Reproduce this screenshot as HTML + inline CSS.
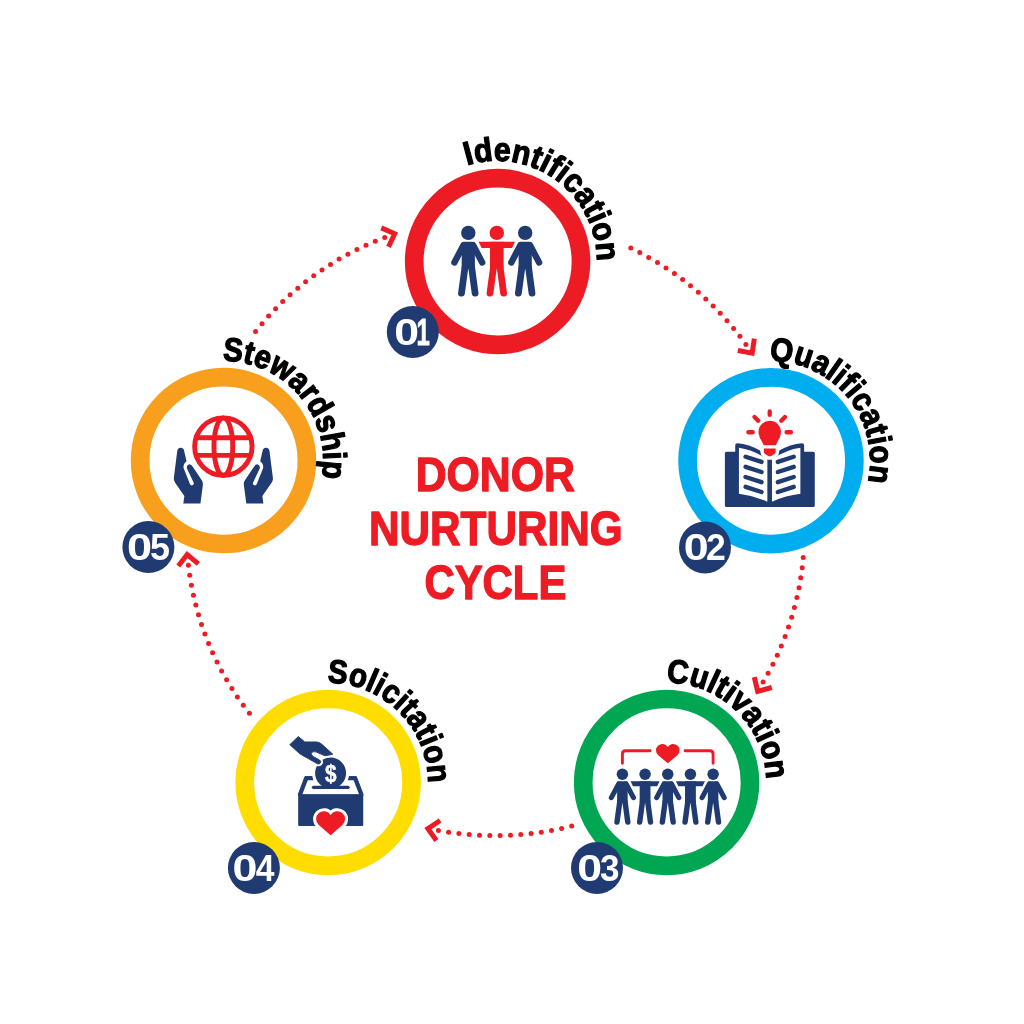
<!DOCTYPE html>
<html lang="en"><head><meta charset="utf-8"><title>Donor Nurturing Cycle</title>
<style>html,body{margin:0;padding:0;background:#fff}svg{display:block}</style></head>
<body>
<svg width="1024" height="1024" viewBox="0 0 1024 1024" style="will-change:transform">
<rect width="1024" height="1024" fill="#fff"/>
<g fill="#ED1C24">
<circle cx="630.8" cy="248.1" r="2.5"/>
<circle cx="639.8" cy="252.6" r="2.5"/>
<circle cx="648.7" cy="257.4" r="2.5"/>
<circle cx="657.5" cy="262.5" r="2.5"/>
<circle cx="666.0" cy="267.9" r="2.5"/>
<circle cx="674.4" cy="273.6" r="2.5"/>
<circle cx="682.6" cy="279.5" r="2.5"/>
<circle cx="690.5" cy="285.8" r="2.5"/>
<circle cx="698.3" cy="292.3" r="2.5"/>
<circle cx="705.8" cy="299.0" r="2.5"/>
<circle cx="713.1" cy="306.0" r="2.5"/>
<circle cx="720.2" cy="313.2" r="2.5"/>
<circle cx="727.0" cy="320.7" r="2.5"/>
<circle cx="733.6" cy="328.4" r="2.5"/>
<circle cx="739.9" cy="336.3" r="2.5"/>
<circle cx="745.9" cy="344.4" r="2.5"/>
<polyline points="737.8,350.5 752.2,353.1 754.3,338.7" fill="none" stroke="#ED1C24" stroke-width="5.0" stroke-linejoin="miter" stroke-miterlimit="10"/>
<circle cx="803.2" cy="557.6" r="2.5"/>
<circle cx="802.2" cy="567.7" r="2.5"/>
<circle cx="800.7" cy="577.7" r="2.5"/>
<circle cx="799.0" cy="587.7" r="2.5"/>
<circle cx="796.9" cy="597.6" r="2.5"/>
<circle cx="794.4" cy="607.5" r="2.5"/>
<circle cx="791.7" cy="617.3" r="2.5"/>
<circle cx="788.5" cy="626.9" r="2.5"/>
<circle cx="785.1" cy="636.5" r="2.5"/>
<circle cx="781.3" cy="645.9" r="2.5"/>
<circle cx="777.3" cy="655.2" r="2.5"/>
<circle cx="772.9" cy="664.3" r="2.5"/>
<circle cx="768.1" cy="673.3" r="2.5"/>
<circle cx="763.1" cy="682.1" r="2.5"/>
<polyline points="754.3,677.2 757.7,691.4 771.8,687.5" fill="none" stroke="#ED1C24" stroke-width="5.0" stroke-linejoin="miter" stroke-miterlimit="10"/>
<circle cx="571.7" cy="826.0" r="2.5"/>
<circle cx="561.6" cy="828.4" r="2.5"/>
<circle cx="551.5" cy="830.4" r="2.5"/>
<circle cx="541.3" cy="832.2" r="2.5"/>
<circle cx="531.1" cy="833.5" r="2.5"/>
<circle cx="520.8" cy="834.6" r="2.5"/>
<circle cx="510.5" cy="835.3" r="2.5"/>
<circle cx="500.1" cy="835.6" r="2.5"/>
<circle cx="489.8" cy="835.6" r="2.5"/>
<circle cx="479.5" cy="835.3" r="2.5"/>
<circle cx="469.2" cy="834.6" r="2.5"/>
<circle cx="458.9" cy="833.6" r="2.5"/>
<circle cx="448.6" cy="832.2" r="2.5"/>
<circle cx="438.4" cy="830.5" r="2.5"/>
<polyline points="440.1,820.5 427.9,828.6 436.4,840.5" fill="none" stroke="#ED1C24" stroke-width="5.0" stroke-linejoin="miter" stroke-miterlimit="10"/>
<circle cx="249.4" cy="713.3" r="2.5"/>
<circle cx="243.3" cy="705.2" r="2.5"/>
<circle cx="237.4" cy="696.9" r="2.5"/>
<circle cx="231.9" cy="688.5" r="2.5"/>
<circle cx="226.6" cy="679.8" r="2.5"/>
<circle cx="221.6" cy="671.0" r="2.5"/>
<circle cx="217.0" cy="661.9" r="2.5"/>
<circle cx="212.6" cy="652.8" r="2.5"/>
<circle cx="208.6" cy="643.5" r="2.5"/>
<circle cx="204.9" cy="634.0" r="2.5"/>
<circle cx="201.5" cy="624.5" r="2.5"/>
<circle cx="198.5" cy="614.8" r="2.5"/>
<circle cx="195.8" cy="605.0" r="2.5"/>
<circle cx="193.4" cy="595.2" r="2.5"/>
<circle cx="191.4" cy="585.2" r="2.5"/>
<circle cx="189.7" cy="575.2" r="2.5"/>
<circle cx="188.4" cy="565.2" r="2.5"/>
<polyline points="198.4,563.8 187.2,554.5 178.3,566.1" fill="none" stroke="#ED1C24" stroke-width="5.0" stroke-linejoin="miter" stroke-miterlimit="10"/>
<circle cx="255.6" cy="331.5" r="2.5"/>
<circle cx="262.0" cy="323.7" r="2.5"/>
<circle cx="268.6" cy="316.1" r="2.5"/>
<circle cx="275.6" cy="308.8" r="2.5"/>
<circle cx="282.7" cy="301.6" r="2.5"/>
<circle cx="290.1" cy="294.8" r="2.5"/>
<circle cx="297.8" cy="288.2" r="2.5"/>
<circle cx="305.6" cy="281.8" r="2.5"/>
<circle cx="313.7" cy="275.7" r="2.5"/>
<circle cx="322.0" cy="269.9" r="2.5"/>
<circle cx="330.5" cy="264.4" r="2.5"/>
<circle cx="339.1" cy="259.1" r="2.5"/>
<circle cx="347.9" cy="254.2" r="2.5"/>
<circle cx="356.9" cy="249.6" r="2.5"/>
<circle cx="366.0" cy="245.2" r="2.5"/>
<circle cx="375.3" cy="241.2" r="2.5"/>
<circle cx="384.7" cy="237.5" r="2.5"/>
<polyline points="388.5,246.9 394.7,233.8 381.3,227.9" fill="none" stroke="#ED1C24" stroke-width="5.0" stroke-linejoin="miter" stroke-miterlimit="10"/>
</g>
<circle cx="497.6" cy="261.5" r="83.4" fill="#fff" stroke="#ED1C24" stroke-width="18.7"/>
<circle cx="771" cy="460.7" r="83.4" fill="#fff" stroke="#00AEEF" stroke-width="18.7"/>
<circle cx="666.6" cy="782.4" r="83.4" fill="#fff" stroke="#00A651" stroke-width="18.7"/>
<circle cx="328.15" cy="782.4" r="83.4" fill="#fff" stroke="#FFDD00" stroke-width="18.7"/>
<circle cx="223.5" cy="460.6" r="83.4" fill="#fff" stroke="#F89F1D" stroke-width="18.7"/>
<circle cx="412.8" cy="332.0" r="26" fill="#203A72"/>
<text y="344.9" font-size="36" fill="#fff" font-family="'Liberation Sans', Arial, sans-serif" font-weight="bold"><tspan x="394.31" textLength="24.80" lengthAdjust="spacingAndGlyphs">0</tspan><tspan x="416.61" textLength="13.29" lengthAdjust="spacingAndGlyphs" stroke="#fff" stroke-width="0.8">1</tspan></text>
<circle cx="705.0" cy="547.4" r="26" fill="#203A72"/>
<text y="560.3" font-size="36" fill="#fff" font-family="'Liberation Sans', Arial, sans-serif" font-weight="bold"><tspan x="683.80" textLength="24.92" lengthAdjust="spacingAndGlyphs">0</tspan><tspan x="706.09" textLength="19.80" lengthAdjust="spacingAndGlyphs">2</tspan></text>
<circle cx="597.0" cy="867.9" r="26" fill="#203A72"/>
<text y="880.8" font-size="36" fill="#fff" font-family="'Liberation Sans', Arial, sans-serif" font-weight="bold"><tspan x="577.31" textLength="24.80" lengthAdjust="spacingAndGlyphs">0</tspan><tspan x="600.05" textLength="19.52" lengthAdjust="spacingAndGlyphs">3</tspan></text>
<circle cx="253.9" cy="867.9" r="26" fill="#203A72"/>
<text y="880.8" font-size="36" fill="#fff" font-family="'Liberation Sans', Arial, sans-serif" font-weight="bold"><tspan x="232.50" textLength="24.92" lengthAdjust="spacingAndGlyphs">0</tspan><tspan x="255.80" textLength="18.69" lengthAdjust="spacingAndGlyphs">4</tspan></text>
<circle cx="148.4" cy="547.1" r="26" fill="#203A72"/>
<text y="560.0" font-size="36" fill="#fff" font-family="'Liberation Sans', Arial, sans-serif" font-weight="bold"><tspan x="126.99" textLength="25.09" lengthAdjust="spacingAndGlyphs">0</tspan><tspan x="149.94" textLength="20.01" lengthAdjust="spacingAndGlyphs">5</tspan></text>
<defs>
<path id="lp0" d="M467.14,165.42 A99.8,99.8 0 0 1 543.23,349.12"/>
<path id="lp1" d="M769.43,360.80 A99.8,99.8 0 0 1 788.49,558.73"/>
<path id="lp2" d="M666.25,682.50 A99.8,99.8 0 0 1 684.27,880.52"/>
<path id="lp3" d="M327.38,682.70 A99.8,99.8 0 0 1 346.44,880.63"/>
<path id="lp4" d="M222.63,360.80 A99.8,99.8 0 0 1 241.69,558.73"/>
</defs>
<text font-size="33" fill="#000" stroke="#000" stroke-width="1.3" stroke-linejoin="round" font-family="'Liberation Sans', Arial, sans-serif" font-weight="bold"><textPath href="#lp0" textLength="187.8" lengthAdjust="spacingAndGlyphs">Identification</textPath></text>
<text font-size="33" fill="#000" stroke="#000" stroke-width="1.3" stroke-linejoin="round" font-family="'Liberation Sans', Arial, sans-serif" font-weight="bold"><textPath href="#lp1" textLength="179.1" lengthAdjust="spacingAndGlyphs">Qualification</textPath></text>
<text font-size="33" fill="#000" stroke="#000" stroke-width="1.3" stroke-linejoin="round" font-family="'Liberation Sans', Arial, sans-serif" font-weight="bold"><textPath href="#lp2" textLength="154.0" lengthAdjust="spacingAndGlyphs">Cultivation</textPath></text>
<text font-size="33" fill="#000" stroke="#000" stroke-width="1.3" stroke-linejoin="round" font-family="'Liberation Sans', Arial, sans-serif" font-weight="bold"><textPath href="#lp3" textLength="158.2" lengthAdjust="spacingAndGlyphs">Solicitation</textPath></text>
<text font-size="33" fill="#000" stroke="#000" stroke-width="1.3" stroke-linejoin="round" font-family="'Liberation Sans', Arial, sans-serif" font-weight="bold"><textPath href="#lp4" textLength="175.1" lengthAdjust="spacingAndGlyphs">Stewardship</textPath></text>
<text x="415.63" y="490.80" font-size="48" fill="#ED1C24" stroke="#ED1C24" stroke-width="1.4" stroke-linejoin="round" font-family="'Liberation Sans', Arial, sans-serif" font-weight="bold" textLength="159.29" lengthAdjust="spacingAndGlyphs">DONOR</text>
<text x="369.06" y="544.50" font-size="48" fill="#ED1C24" stroke="#ED1C24" stroke-width="1.4" stroke-linejoin="round" font-family="'Liberation Sans', Arial, sans-serif" font-weight="bold" textLength="253.54" lengthAdjust="spacingAndGlyphs">NURTURING</text>
<text x="424.39" y="598.50" font-size="48" fill="#ED1C24" stroke="#ED1C24" stroke-width="1.4" stroke-linejoin="round" font-family="'Liberation Sans', Arial, sans-serif" font-weight="bold" textLength="142.01" lengthAdjust="spacingAndGlyphs">CYCLE</text>
<g transform="translate(468.30,232.90) scale(1)" fill="#203A72" stroke="#203A72" stroke-linecap="round">
<circle r="7.2" stroke="none"/>
<path d="M-4.7,12.1 L-13.9,29.5 M4.7,12.1 L13.9,29.5" stroke-width="6.4" fill="none"/>
<path d="M-6.6,12 Q-6.6,8.9 -3.6,8.9 H3.6 Q6.6,8.9 6.6,12 V36 H-6.6 Z" stroke="none"/>
<path d="M-3.25,34 L-6.8,60.2 M3.25,34 L6.8,60.2" stroke-width="6.8" fill="none"/>
</g>
<g transform="translate(525.20,232.90) scale(1)" fill="#203A72" stroke="#203A72" stroke-linecap="round">
<circle r="7.2" stroke="none"/>
<path d="M-4.7,12.1 L-13.9,29.5 M4.7,12.1 L13.9,29.5" stroke-width="6.4" fill="none"/>
<path d="M-6.6,12 Q-6.6,8.9 -3.6,8.9 H3.6 Q6.6,8.9 6.6,12 V36 H-6.6 Z" stroke="none"/>
<path d="M-3.25,34 L-6.8,60.2 M3.25,34 L6.8,60.2" stroke-width="6.8" fill="none"/>
</g>
<g transform="translate(496.80,232.90) scale(1)" fill="#ED1C24" stroke="#ED1C24" stroke-linecap="round">
<circle r="7.2" stroke="none"/>
<path d="M-18.2,8.9 H18.2 L15.2,15.1 H-15.2 Z" stroke="none"/>
<rect x="-6.8" y="8.9" width="13.6" height="27" stroke="none"/>
<path d="M-3.25,34 L-6.8,60.2 M3.25,34 L6.8,60.2" stroke-width="6.8" fill="none"/>
</g>
<rect x="724.89" y="451.69" width="89.89" height="55.28" rx="1.5" fill="#203A72"/>
<path d="M 735.22,467.42 L 735.22,444.94 Q 735.22,443.26 737.47,443.26 Q 748.71,444.04 760.51,450.79 L 760.51,467.42 Z" fill="#203A72"/>
<path d="M 738.93,447.75 Q 752.08,449.44 767.36,458.99 L 767.36,501.69 Q 753.20,495.51 738.93,493.82 Z" fill="#fff"/>
<path d="M 745.56,456.74 L 761.52,461.91" fill="none" stroke="#203A72" stroke-width="4.4" stroke-linecap="round"/>
<path d="M 745.56,466.85 L 761.52,472.02" fill="none" stroke="#203A72" stroke-width="4.4" stroke-linecap="round"/>
<path d="M 745.56,476.97 L 761.52,482.13" fill="none" stroke="#203A72" stroke-width="4.4" stroke-linecap="round"/>
<path d="M 745.56,486.85 L 761.52,492.02" fill="none" stroke="#203A72" stroke-width="4.4" stroke-linecap="round"/>
<path d="M 804.10,467.42 L 804.10,444.94 Q 804.10,443.26 801.85,443.26 Q 790.62,444.04 778.82,450.79 L 778.82,467.42 Z" fill="#203A72"/>
<path d="M 800.39,447.75 Q 787.25,449.44 771.97,458.99 L 771.97,501.69 Q 786.12,495.51 800.39,493.82 Z" fill="#fff"/>
<path d="M 793.76,456.74 L 777.81,461.91" fill="none" stroke="#203A72" stroke-width="4.4" stroke-linecap="round"/>
<path d="M 793.76,466.85 L 777.81,472.02" fill="none" stroke="#203A72" stroke-width="4.4" stroke-linecap="round"/>
<path d="M 793.76,476.97 L 777.81,482.13" fill="none" stroke="#203A72" stroke-width="4.4" stroke-linecap="round"/>
<path d="M 793.76,486.85 L 777.81,492.02" fill="none" stroke="#203A72" stroke-width="4.4" stroke-linecap="round"/>
<path d="M 763.88,448.54 L 775.67,448.54 L 775.67,451.91 Q 775.67,453.03 774.33,453.93 L 771.74,455.84 Q 769.72,456.85 767.81,455.84 L 765.11,453.93 Q 763.88,453.03 763.88,451.91 Z" fill="#ED1C24" stroke="#fff" stroke-width="7" paint-order="stroke" stroke-linejoin="round"/>
<circle cx="769.72" cy="432.02" r="11.2" fill="#ED1C24"/>
<path d="M 759.49,437.08 L 779.94,437.08 Q 777.92,441.01 775.79,445.17 L 763.76,445.17 Q 761.63,441.01 759.49,437.08 Z" fill="#ED1C24"/>
<path d="M 769.72,411.46 L 769.72,414.94 M 754.55,417.08 L 758.15,420.67 M 784.89,417.08 L 781.29,420.67 M 748.37,432.25 L 752.75,432.25 M 786.57,432.25 L 790.96,432.25" fill="none" stroke="#ED1C24" stroke-width="4.3" stroke-linecap="round"/>
<g transform="translate(645.08,774.20) scale(0.796)" fill="#203A72" stroke="#203A72" stroke-linecap="round">
<circle r="7.2" stroke="none"/>
<path d="M-18.2,8.9 H18.2 L15.2,15.1 H-15.2 Z" stroke="none"/>
<rect x="-6.8" y="8.9" width="13.6" height="27" stroke="none"/>
<path d="M-3.25,34 L-6.8,60.2 M3.25,34 L6.8,60.2" stroke-width="6.8" fill="none"/>
</g>
<g transform="translate(690.44,774.20) scale(0.796)" fill="#203A72" stroke="#203A72" stroke-linecap="round">
<circle r="7.2" stroke="none"/>
<path d="M-18.2,8.9 H18.2 L15.2,15.1 H-15.2 Z" stroke="none"/>
<rect x="-6.8" y="8.9" width="13.6" height="27" stroke="none"/>
<path d="M-3.25,34 L-6.8,60.2 M3.25,34 L6.8,60.2" stroke-width="6.8" fill="none"/>
</g>
<g transform="translate(622.40,774.20) scale(0.796)" fill="#203A72" stroke="#203A72" stroke-linecap="round">
<circle r="7.2" stroke="none"/>
<path d="M-4.7,12.1 L-13.9,29.5 M4.7,12.1 L13.9,29.5" stroke-width="6.4" fill="none"/>
<path d="M-6.6,12 Q-6.6,8.9 -3.6,8.9 H3.6 Q6.6,8.9 6.6,12 V36 H-6.6 Z" stroke="none"/>
<path d="M-3.25,34 L-6.8,60.2 M3.25,34 L6.8,60.2" stroke-width="6.8" fill="none"/>
</g>
<g transform="translate(667.76,774.20) scale(0.796)" fill="#203A72" stroke="#203A72" stroke-linecap="round">
<circle r="7.2" stroke="none"/>
<path d="M-4.7,12.1 L-13.9,29.5 M4.7,12.1 L13.9,29.5" stroke-width="6.4" fill="none"/>
<path d="M-6.6,12 Q-6.6,8.9 -3.6,8.9 H3.6 Q6.6,8.9 6.6,12 V36 H-6.6 Z" stroke="none"/>
<path d="M-3.25,34 L-6.8,60.2 M3.25,34 L6.8,60.2" stroke-width="6.8" fill="none"/>
</g>
<g transform="translate(713.12,774.20) scale(0.796)" fill="#203A72" stroke="#203A72" stroke-linecap="round">
<circle r="7.2" stroke="none"/>
<path d="M-4.7,12.1 L-13.9,29.5 M4.7,12.1 L13.9,29.5" stroke-width="6.4" fill="none"/>
<path d="M-6.6,12 Q-6.6,8.9 -3.6,8.9 H3.6 Q6.6,8.9 6.6,12 V36 H-6.6 Z" stroke="none"/>
<path d="M-3.25,34 L-6.8,60.2 M3.25,34 L6.8,60.2" stroke-width="6.8" fill="none"/>
</g>
<path d="M622.4,763.3 V754 Q622.4,750.8 625.6,750.8 H650.1 M685,750.8 H709.9 Q713.1,750.8 713.1,754 V763.3" fill="none" stroke="#ED1C24" stroke-width="2.9" stroke-linecap="round"/>
<path d="M667.80,763.30 L658.21,755.18 A6.40,6.40 0 1 1 667.80,746.95 A6.40,6.40 0 1 1 677.39,755.18 Z" fill="#ED1C24" />
<path d="M 298.17,794.75 L 304.97,776.58 L 356.32,776.58 L 363.24,794.75 Z" fill="#203A72" stroke="#203A72" stroke-width="1" stroke-linejoin="round"/>
<path d="M 302.27,794.40 L 307.78,780.22 L 353.62,780.22 L 359.13,794.40 Z" fill="#fff"/>
<circle cx="330.6" cy="773.1" r="18.6" fill="#fff"/>
<rect x="298.17" y="794.17" width="65.06" height="31.89" rx="1" fill="#203A72"/>
<path d="M313.5,787.3 H348.1" stroke="#203A72" stroke-width="3.3" stroke-linecap="round"/>
<circle cx="330.6" cy="773.1" r="15.5" fill="#203A72"/>
<text transform="translate(330.70000000000005,781.5) scale(0.88,1)" text-anchor="middle" font-size="23.5" fill="#fff" stroke="#fff" stroke-width="0.5" font-family="'Liberation Sans', Arial, sans-serif" font-weight="bold">$</text>
<path d="M 298.33,736.49 L 304.82,741.96 L 316.78,741.96 Q 319.86,742.30 321.91,744.35 L 332.85,754.27 L 324.99,755.84 L 315.90,751.87 Q 311.93,750.92 311.25,753.58 Q 311.25,755.29 313.71,756.73 L 319.52,760.01 Q 321.23,761.10 320.54,762.81 Q 319.52,764.52 317.47,763.83 L 300.04,753.92 L 289.78,744.70 Z" fill="#fff" stroke="#fff" stroke-width="4.6" stroke-linejoin="round"/>
<path d="M 298.33,736.49 L 304.82,741.96 L 316.78,741.96 Q 319.86,742.30 321.91,744.35 L 332.85,754.27 L 324.99,755.84 L 315.90,751.87 Q 311.93,750.92 311.25,753.58 Q 311.25,755.29 313.71,756.73 L 319.52,760.01 Q 321.23,761.10 320.54,762.81 Q 319.52,764.52 317.47,763.83 L 300.04,753.92 L 289.78,744.70 Z" fill="#203A72" stroke="#203A72" stroke-width="0.9" stroke-linejoin="round"/>
<path d="M330.60,835.20 L318.79,824.94 A7.83,7.83 0 1 1 330.60,814.93 A7.83,7.83 0 1 1 342.41,824.94 Z" fill="#ED1C24" stroke="#fff" stroke-width="6" paint-order="stroke" stroke-linejoin="round"/>
<g fill="none" stroke="#ED1C24" stroke-width="4.9">
<circle cx="223.36" cy="446.60" r="28.7"/>
<ellipse cx="223.36" cy="446.60" rx="9.4" ry="28.7"/>
<path d="M196.04,437.80 H250.68"/>
<path d="M196.04,455.40 H250.68"/>
</g>
<path d="M 177.18,451.62 Q 177.38,447.66 180.73,447.66 Q 183.88,447.66 184.22,451.28 L 186.54,461.33 Q 183.33,463.58 183.47,467.68 L 189.82,483.75 Q 190.85,486.14 192.90,485.11 Q 194.27,484.09 193.58,482.38 L 187.09,468.71 Q 186.06,465.63 188.80,464.40 Q 191.19,463.92 192.90,467.00 L 201.78,480.33 Q 203.15,482.38 202.95,484.43 L 200.42,503.57 L 183.33,503.57 L 184.35,496.05 L 175.13,482.72 Q 173.55,480.33 173.83,477.94 Z" fill="#203A72"/>
<path d="M 269.54,451.62 Q 269.34,447.66 265.99,447.66 Q 262.84,447.66 262.50,451.28 L 260.18,461.33 Q 263.39,463.58 263.25,467.68 L 256.90,483.75 Q 255.87,486.14 253.82,485.11 Q 252.45,484.09 253.14,482.38 L 259.63,468.71 Q 260.66,465.63 257.92,464.40 Q 255.53,463.92 253.82,467.00 L 244.94,480.33 Q 243.57,482.38 243.77,484.43 L 246.30,503.57 L 263.39,503.57 L 262.37,496.05 L 271.59,482.72 Q 273.17,480.33 272.89,477.94 Z" fill="#203A72"/>
</svg>
</body></html>
